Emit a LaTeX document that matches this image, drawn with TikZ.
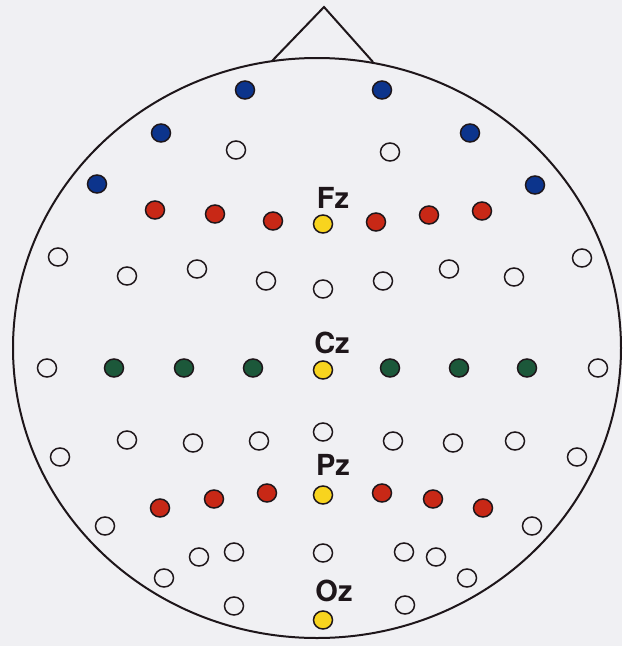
\documentclass[tikz,border=0pt]{standalone}
\usepackage{fontspec}
\setsansfont{TeX Gyre Heros}
\usetikzlibrary{shapes.geometric}
\definecolor{bg}{RGB}{240,240,243}
\definecolor{eblue}{RGB}{12,52,140}
\definecolor{ered}{RGB}{200,40,22}
\definecolor{egreen}{RGB}{28,88,58}
\definecolor{eyellow}{RGB}{248,212,30}
\definecolor{ink}{RGB}{30,22,26}
\tikzset{
  elec/.style={ellipse, draw=ink, line width=1.5pt, minimum width=19pt, minimum height=18pt, inner sep=0pt},
  openel/.style={elec},
  blueel/.style={elec, fill=eblue},
  redel/.style={elec, fill=ered},
  greenel/.style={elec, fill=egreen},
  yellowel/.style={elec, fill=eyellow},
  lbl/.style={font=\sffamily\bfseries\fontsize{29}{29}\selectfont, text=ink, inner sep=0pt},
  headline/.style={draw=ink, line width=2pt}
}
\begin{document}
\begin{tikzpicture}[x=1pt,y=-1pt]
\fill[bg] (0,0) rectangle (622,646);
\useasboundingbox (0,0) rectangle (622,646);
% nose
\coordinate (nl) at (272,61);
\coordinate (nt) at (324,7);
\coordinate (nr) at (373,62);
\draw[headline, line join=miter] (nl) -- (nt) -- (nr);
% head
\node[headline, ellipse, minimum width=608pt, minimum height=580pt, inner sep=0pt] (head) at (317,348) {};
% top blue and open
\foreach \n/\x/\y in {b1/245/90, b2/382/90, b3/161/133, b4/470/133, b5/97/184, b6/535/185}
  \node[blueel] (\n) at (\x,\y) {};
\foreach \n/\x/\y in {o1/236/150, o2/390/152}
  \node[openel] (\n) at (\x,\y) {};
% frontal reds
\foreach \n/\x/\y in {r1/155/210, r2/215/214, r3/273/221, r4/376/222, r5/429/215, r6/482/211}
  \node[redel] (\n) at (\x,\y) {};
\node[yellowel] (fz) at (323,224) {};
\node[lbl] (fzl) at (333,198) {Fz};
% fronto-central open row
\foreach \n/\x/\y in {o3/58/257, o4/127/276, o5/197/269, o6/266/281, o7/323/289, o8/383/281, o9/449/269, o10/514/277, o11/582/258}
  \node[openel] (\n) at (\x,\y) {};
% central row
\node[openel] (o12) at (47,368) {};
\foreach \n/\x in {g1/114, g2/184, g3/253, g4/390, g5/459, g6/527}
  \node[greenel] (\n) at (\x,368) {};
\node[openel] (o13) at (598,368) {};
\node[yellowel] (cz) at (323,370) {};
\node[lbl] (czl) at (332,343) {Cz};
% centro-parietal open row
\foreach \n/\x/\y in {o14/60/457, o15/127/440, o16/193/443, o17/259/441, o18/323/432, o19/393/441, o20/453/443, o21/515/441, o22/577/457}
  \node[openel] (\n) at (\x,\y) {};
% parietal
\foreach \n/\x/\y in {r7/160/508, r8/214/499, r9/267/493, r10/382/493, r11/433/499, r12/483/508}
  \node[redel] (\n) at (\x,\y) {};
\node[yellowel] (pz) at (323,495) {};
\node[lbl] (pzl) at (333,465) {Pz};
% occipital open
\foreach \n/\x/\y in {o23/105/526, o24/532/526, o25/199/557, o26/234/552, o27/323/553, o28/404/552, o29/436/557, o30/164/578, o31/467/578, o32/234/606, o33/405/605}
  \node[openel] (\n) at (\x,\y) {};
\node[yellowel] (oz) at (323,620) {};
\node[lbl] (ozl) at (334,591) {Oz};
\end{tikzpicture}
\end{document}
